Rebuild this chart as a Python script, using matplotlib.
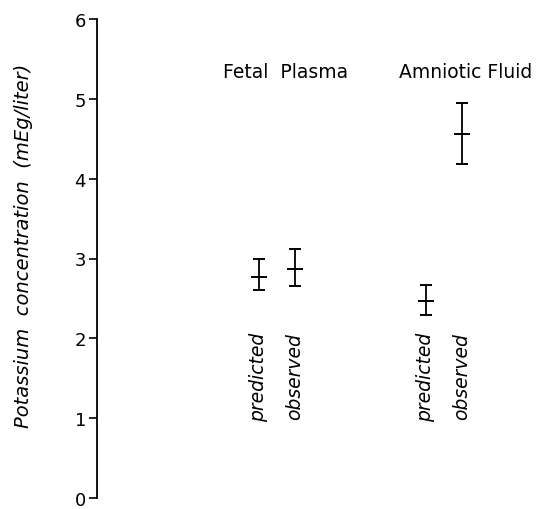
import numpy as np
import matplotlib
matplotlib.use("Agg")
import matplotlib.pyplot as plt

# data
groups = ["Fetal  Plasma", "Amniotic Fluid"]
kinds = ["predicted", "observed"]
means = [[2.77, 2.87], [2.47, 4.56]]
lower = [[2.60, 2.66], [2.29, 4.18]]
upper = [[2.99, 3.12], [2.67, 4.95]]

plt.rcParams['font.family'] = ['DejaVu Sans']

fig = plt.figure(figsize=(5.41, 5.10), dpi=100)
ax = fig.add_axes([97 / 541, 11 / 510, 444 / 541, 479 / 510])

offset = 0.108
title_shift = [0.05, 0.13]
for g in range(len(groups)):
    for k in range(len(kinds)):
        x = g + 1 + (k * 2 - 1) * offset
        m = means[g][k]
        err = [[m - lower[g][k]], [upper[g][k] - m]]
        ax.errorbar([x], [m], yerr=err, fmt='_', color='black',
                    markersize=12, markeredgewidth=1.4, elinewidth=1.3,
                    capsize=4.5, capthick=1.3)
        ax.text(x, 2.08, kinds[k], rotation=90, ha='center', va='top',
                fontsize=13.5, style='italic')
    ax.text(g + 1 + title_shift[g], 5.34, groups[g], ha='center', va='center',
            fontsize=13.5)

ax.set_xlim(-0.078, 2.581)
ax.set_ylim(0, 6)
ax.set_yticks(range(7))
ax.tick_params(axis='y', direction='out', length=6, width=1.2, labelsize=13, pad=2)
ax.set_xticks([])
for s in ['top', 'right', 'bottom']:
    ax.spines[s].set_visible(False)
ax.spines['left'].set_linewidth(1.3)
ax.patch.set_alpha(0)

fig.text(24 / 541, 1 - 246 / 510, "Potassium  concentration  (mEg/liter)",
         rotation=90, ha='center', va='center', fontsize=14, style='italic')

fig.savefig("out.png", dpi=100)
